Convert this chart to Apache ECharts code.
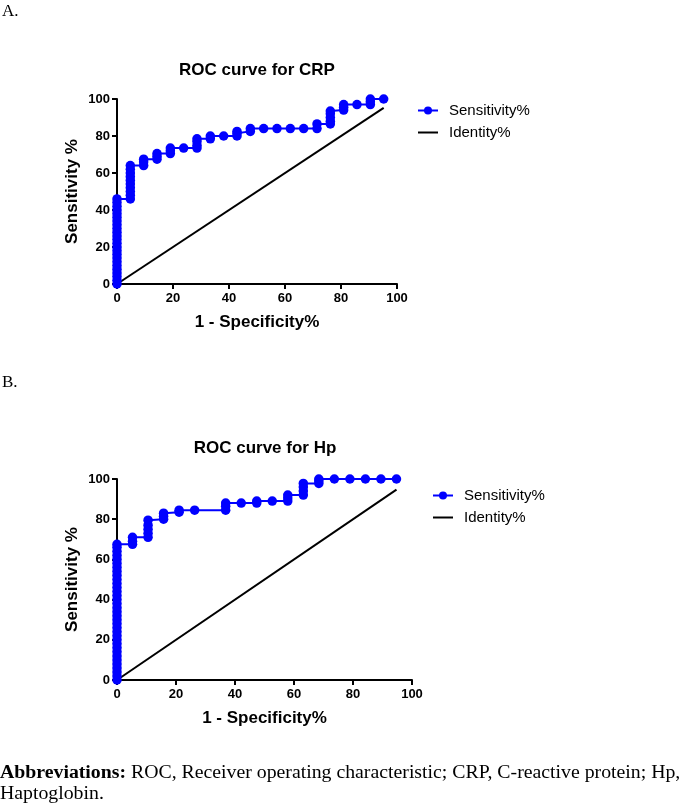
<!DOCTYPE html>
<html>
<head>
<meta charset="utf-8">
<script src="https://cdn.jsdelivr.net/npm/echarts@6/dist/echarts.min.js"></script>
<style>
html,body{margin:0;padding:0;background:#fff;}
#c{width:685px;height:805px;}
</style>
</head>
<body>
<div id="c"></div>
<script>
// ---- CRP ROC data (1 - Specificity% steps and Sensitivity% values at each step)
var crpFprSteps = [0, 4.76, 9.52, 14.29, 19.05, 23.81, 28.57, 33.33, 38.1, 42.86, 47.62, 52.38, 57.14, 61.9, 66.67, 71.43, 76.19, 80.95, 85.71, 90.48, 95.24];
var crpSensAtStep = [
  [0, 2, 4, 6, 8, 10, 12, 14, 16, 18, 20, 22, 24, 26, 28, 30, 32, 34, 36, 38, 40, 42, 44, 46],
  [46, 48, 50, 52, 54, 56, 58, 60, 62, 64],
  [64, 66, 67.5],
  [67.5, 69, 70.5],
  [70.5, 72, 73.5],
  [73.5],
  [73.5, 75, 77, 78.5],
  [78.5, 80],
  [80],
  [80, 81.5, 82.5],
  [82.5, 84],
  [84],
  [84],
  [84],
  [84],
  [84, 86.5],
  [86.5, 88, 90, 92, 93.5],
  [94, 95.5, 97],
  [97],
  [97, 98.5, 100],
  [100]
];
var crpIdentity = [0, 95.24];

// ---- Hp ROC data
var hpFprSteps = [0, 5.26, 10.53, 15.79, 21.05, 26.32, 36.84, 42.11, 47.37, 52.63, 57.89, 63.16, 68.42, 73.68, 78.95, 84.21, 89.47, 94.74];
var hpSensAtStep = [
  [0, 2, 4, 6, 8, 10, 12, 14, 16, 18, 20, 22, 24, 26, 28, 30, 32, 34, 36, 38, 40, 42, 44, 46, 48, 50, 52, 54, 56, 58, 60, 62, 64, 66, 67.5],
  [67.5, 69, 71],
  [71, 73, 75, 77, 79.5],
  [80, 81.5, 83],
  [83.5, 84.5],
  [84.5],
  [84.5, 86.5, 88],
  [88],
  [88, 89],
  [89],
  [89, 90.5, 92],
  [92, 94, 96, 97.8],
  [97.8, 99, 100],
  [100],
  [100],
  [100],
  [100],
  [100]
];
var hpIdentity = [0, 94.74];

var axisTicks = [0, 20, 40, 60, 80, 100];

function buildPoints(steps, sens) {
  var out = [];
  for (var i = 0; i < steps.length; i++) {
    for (var j = 0; j < sens[i].length; j++) out.push([steps[i], sens[i][j]]);
  }
  return out;
}
function identityPoints(ends) { return [[ends[0], ends[0]], [ends[1], ends[1]]]; }

var FONT = '"Liberation Sans", Arial, sans-serif';
var SERIF = '"Liberation Serif", "Times New Roman", serif';

function xAx(gi) {
  return {
    gridIndex: gi, type: 'value', min: axisTicks[0], max: axisTicks[axisTicks.length - 1], interval: 20,
    name: '1 - Specificity%', nameLocation: 'middle', nameGap: 30,
    nameTextStyle: {fontFamily: FONT, fontWeight: 'bold', fontSize: 17, color: '#000'},
    axisLine: {show: true, onZero: false, lineStyle: {color: '#000', width: 2}},
    axisTick: {show: true, inside: false, length: 5, lineStyle: {color: '#000', width: 2}},
    axisLabel: {fontFamily: FONT, fontWeight: 'bold', fontSize: 13, color: '#000', margin: 8},
    splitLine: {show: false}
  };
}
function yAx(gi) {
  return {
    gridIndex: gi, type: 'value', min: axisTicks[0], max: axisTicks[axisTicks.length - 1], interval: 20,
    name: 'Sensitivity %', nameLocation: 'middle', nameGap: 36,
    nameTextStyle: {fontFamily: FONT, fontWeight: 'bold', fontSize: 17, color: '#000'},
    axisLine: {show: true, onZero: false, lineStyle: {color: '#000', width: 2}},
    axisTick: {show: true, inside: false, length: 5, lineStyle: {color: '#000', width: 2}},
    axisLabel: {fontFamily: FONT, fontWeight: 'bold', fontSize: 13, color: '#000', margin: 7},
    splitLine: {show: false}
  };
}
function sensSeries(gi, data) {
  return {
    name: 'Sensitivity%', type: 'line', xAxisIndex: gi, yAxisIndex: gi, data: data,
    symbol: 'circle', symbolSize: 9.5, showSymbol: true, showAllSymbol: true,
    lineStyle: {color: '#0000ff', width: 2}, itemStyle: {color: '#0000ff'},
    animation: false, z: 3
  };
}
function idSeries(gi, data) {
  return {
    name: 'Identity%', type: 'line', xAxisIndex: gi, yAxisIndex: gi, data: data,
    symbol: 'none', showSymbol: false,
    lineStyle: {color: '#000', width: 2}, itemStyle: {color: '#000'},
    animation: false, z: 2
  };
}
function legendAt(left, top) {
  return {
    left: left, top: top, orient: 'vertical', itemWidth: 20, itemHeight: 10, itemGap: 7,
    data: [
      {name: 'Sensitivity%'},
      {name: 'Identity%', itemStyle: {opacity: 0}}
    ],
    selectedMode: false,
    textStyle: {fontFamily: FONT, fontSize: 15, color: '#000', padding: [0, 0, 0, 6]}
  };
}

var chart = echarts.init(document.getElementById('c'), null, {renderer: 'canvas'});
chart.setOption({
  backgroundColor: '#fff',
  animation: false,
  grid: [
    {left: 117, top: 99, width: 280, height: 185, containLabel: false},
    {left: 117, top: 479, width: 295, height: 201, containLabel: false}
  ],
  xAxis: [xAx(0), xAx(1)],
  yAxis: [yAx(0), yAx(1)],
  legend: [legendAt(412, 98), legendAt(427, 483)],
  series: [
    sensSeries(0, buildPoints(crpFprSteps, crpSensAtStep)),
    idSeries(0, identityPoints(crpIdentity)),
    sensSeries(1, buildPoints(hpFprSteps, hpSensAtStep)),
    idSeries(1, identityPoints(hpIdentity))
  ],
  graphic: [
    {type: 'text', left: 2, top: 3, style: {text: 'A.', font: '17px ' + SERIF, fill: '#000'}},
    {type: 'text', left: 2, top: 374, style: {text: 'B.', font: '17px ' + SERIF, fill: '#000'}},
    {type: 'text', x: 257, y: 70, style: {text: 'ROC curve for CRP', font: 'bold 17px ' + FONT, fill: '#000', textAlign: 'center', textVerticalAlign: 'middle'}},
    {type: 'text', x: 265, y: 448, style: {text: 'ROC curve for Hp', font: 'bold 17px ' + FONT, fill: '#000', textAlign: 'center', textVerticalAlign: 'middle'}},
    {type: 'text', left: 0, top: 762, style: {
      text: '{b|Abbreviations:} ROC, Receiver operating characteristic; CRP, C-reactive protein; Hp,\nHaptoglobin.',
      font: '19.8px ' + SERIF, fill: '#000', lineHeight: 21,
      rich: {b: {fontFamily: SERIF, fontWeight: 'bold', fontSize: 19.8, fill: '#000', lineHeight: 21}}
    }}
  ]
});
</script>
</body>
</html>
